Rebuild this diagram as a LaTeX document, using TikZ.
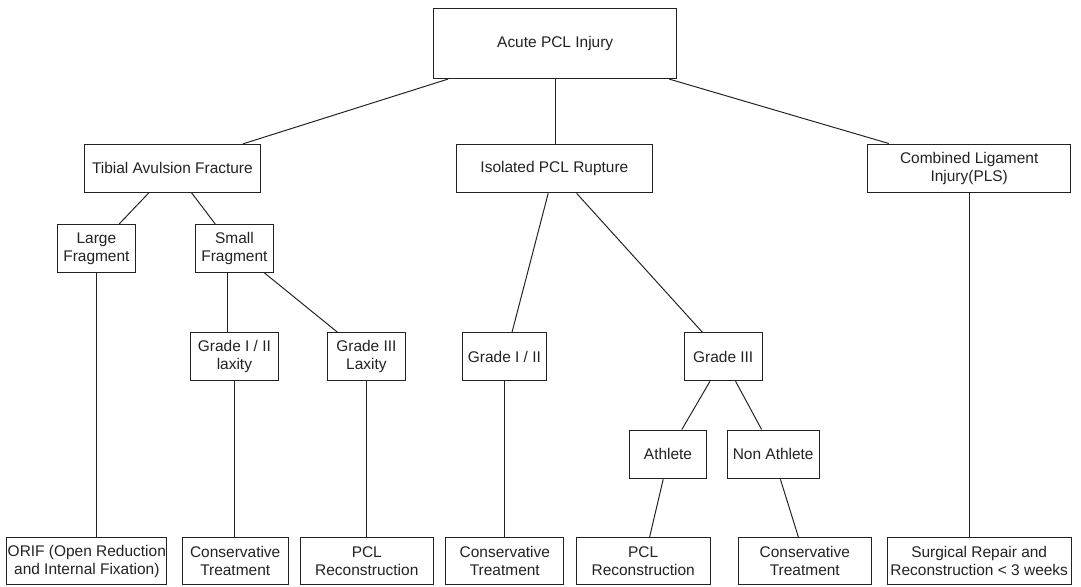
\documentclass[tikz,border=0pt]{standalone}
\usepackage{fontspec}
\setmainfont{Liberation Sans}
\usepackage{tikz}
\usetikzlibrary{positioning,calc}
\definecolor{Ink}{HTML}{222222}

\begin{document}
\begin{tikzpicture}[every node/.style={font=\fontsize{11}{12.8}\selectfont, text=Ink},
    stage/.style={draw=Ink, line width=0.7pt, align=center, inner sep=0pt, minimum height=1.2cm},
    link/.style={draw=Ink, line width=0.7pt}]
  \useasboundingbox (0,0) rectangle (27.025,14.65);
  % top level
  \node[stage, minimum width=6.08cm, minimum height=1.75cm] (root) at (13.88,13.56) {Acute PCL Injury};
  \node[stage, minimum width=4.40cm] (tib) at (4.31,10.44) {Tibial Avulsion Fracture};
  \node[stage, minimum width=4.88cm] (iso) at (13.86,10.43) {Isolated PCL Rupture};
  \node[stage, minimum width=5.08cm, minimum height=1.22cm] (comb) at (24.23,10.44) {Combined Ligament\\Injury(PLS)};
  % fragments and grades
  \node[stage, minimum width=1.94cm] (large) at (2.41,8.44) {Large\\Fragment};
  \node[stage, minimum width=1.95cm] (small) at (5.86,8.44) {Small\\Fragment};
  \node[stage, minimum width=2.18cm] (g12lax) at (5.86,5.73) {Grade I / II\\laxity};
  \node[stage, minimum width=1.94cm] (g3lax) at (9.16,5.73) {Grade III\\Laxity};
  \node[stage, minimum width=2.08cm] (g12) at (12.61,5.73) {Grade I / II};
  \node[stage, minimum width=1.94cm] (g3) at (18.08,5.73) {Grade III};
  \node[stage, minimum width=1.93cm, minimum height=1.22cm] (ath) at (16.70,3.29) {Athlete};
  \node[stage, minimum width=2.31cm, minimum height=1.22cm] (nonath) at (19.33,3.29) {Non Athlete};
  % treatments
  \node[stage, minimum width=4.00cm, minimum height=1.18cm] (orif) at (2.17,0.62) {ORIF (Open Reduction\\and Internal Fixation)};
  \node[stage, minimum width=2.64cm, minimum height=1.18cm] (cons1) at (5.88,0.62) {Conservative\\Treatment};
  \node[stage, minimum width=3.34cm, minimum height=1.18cm] (pcl1) at (9.17,0.62) {PCL\\Reconstruction};
  \node[stage, minimum width=2.95cm, minimum height=1.18cm] (cons2) at (12.62,0.62) {Conservative\\Treatment};
  \node[stage, minimum width=3.34cm, minimum height=1.18cm] (pcl2) at (16.08,0.62) {PCL\\Reconstruction};
  \node[stage, minimum width=3.34cm, minimum height=1.18cm] (cons3) at (20.12,0.62) {Conservative\\Treatment};
  \node[stage, minimum width=4.59cm, minimum height=1.18cm] (surg) at (24.48,0.62) {Surgical Repair and\\Reconstruction {<} 3 weeks};
  % connectors
  \draw[link] ([xshift=-2.68cm]root.south) -- ([xshift=1.76cm]tib.north);
  \draw[link] (root.south) -- (root.south |- iso.north);
  \draw[link] ([xshift=2.85cm]root.south) -- ([xshift=-2.01cm]comb.north);
  \draw[link] ([xshift=-0.59cm]tib.south) -- ([xshift=0.57cm]large.north);
  \draw[link] ([xshift=0.48cm]tib.south) -- ([xshift=-0.48cm]small.north);
  \draw[link] (large.south) -- (large.south |- orif.north);
  \draw[link] ([xshift=-0.18cm]small.south) -- ([xshift=-0.18cm]small.south |- g12lax.north);
  \draw[link] (g12lax.south) -- (g12lax.south |- cons1.north);
  \draw[link] ([xshift=0.75cm]small.south) -- ([xshift=-0.72cm]g3lax.north);
  \draw[link] (g3lax.south) -- (g3lax.south |- pcl1.north);
  \draw[link] ([xshift=-0.155cm]iso.south) -- ([xshift=0.19cm]g12.north);
  \draw[link] ([xshift=0.555cm]iso.south) -- ([xshift=-0.52cm]g3.north);
  \draw[link] (g12.south) -- (g12.south |- cons2.north);
  \draw[link] ([xshift=-0.33cm]g3.south) -- ([xshift=0.345cm]ath.north);
  \draw[link] ([xshift=0.31cm]g3.south) -- ([xshift=-0.29cm]nonath.north);
  \draw[link] ([xshift=-0.12cm]ath.south) -- ([xshift=0.16cm]pcl2.north);
  \draw[link] ([xshift=0.18cm]nonath.south) -- ([xshift=-0.16cm]cons3.north);
  \draw[link] (comb.south) -- (comb.south |- surg.north);
\end{tikzpicture}
\end{document}
